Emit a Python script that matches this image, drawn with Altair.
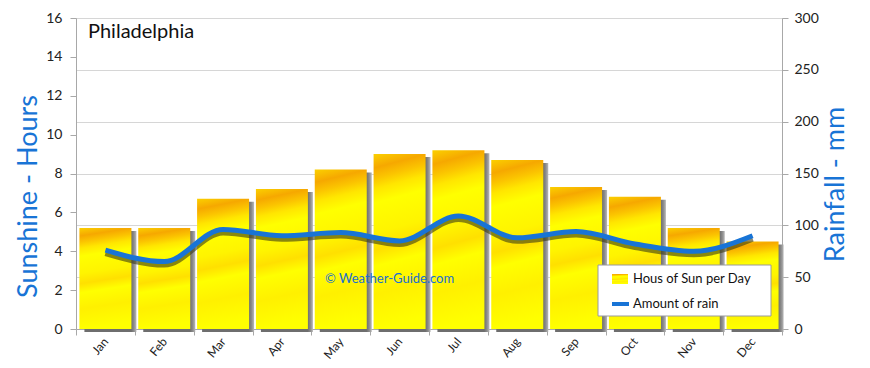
import altair as alt
import pandas as pd

months = ["Jan", "Feb", "Mar", "Apr", "May", "Jun", "Jul", "Aug", "Sep", "Oct", "Nov", "Dec"]
sun_hours = [5.2, 5.2, 6.7, 7.2, 8.2, 9.0, 9.2, 8.7, 7.3, 6.8, 5.2, 4.5]
rain_mm = [76, 65, 96, 90, 93, 85, 109, 88, 94, 82, 75, 90]
sun_ticks = [0, 2, 4, 6, 8, 10, 12, 14, 16]
rain_ticks = [0, 50, 100, 150, 200, 250, 300]
city = "Philadelphia"
credit = "© Weather-Guide.com"
series_names = ["Hous of Sun per Day", "Amount of rain"]

df = pd.DataFrame({"month": months, "sun": sun_hours, "rain": rain_mm})

W, H = 706, 311
TOP = 10  # plot top at page y = 8 + TOP
DY = (8 + TOP) - 9  # shift relative to the reference plot top
FONT = "Lato"
BLUE = "#1874d6"
AXIS_GRAY = "#a8a8a8"

yellow_grad = alt.Gradient(
    gradient="linear",
    stops=[
        alt.GradientStop(color="#fbd000", offset=0),
        alt.GradientStop(color="#f6a800", offset=0.08),
        alt.GradientStop(color="#fbc400", offset=0.14),
        alt.GradientStop(color="#ffe600", offset=0.2),
        alt.GradientStop(color="#ffff00", offset=0.28),
        alt.GradientStop(color="#fff400", offset=0.45),
        alt.GradientStop(color="#ffe000", offset=0.55),
        alt.GradientStop(color="#ffff00", offset=0.64),
        alt.GradientStop(color="#fff000", offset=0.8),
        alt.GradientStop(color="#ffff00", offset=1),
    ],
    x1=0, y1=0, x2=0.08, y2=1,
)
gray_grad = alt.Gradient(
    gradient="linear",
    stops=[
        alt.GradientStop(color="#6e6e6e", offset=0),
        alt.GradientStop(color="#8a8a8a", offset=0.5),
        alt.GradientStop(color="#b8b8b8", offset=1),
    ],
    x1=0.9, y1=0, x2=1, y2=0,
)

x_enc = alt.X(
    "month:N",
    sort=months,
    scale=alt.Scale(paddingInner=0, paddingOuter=0),
    axis=alt.Axis(
        title=None, labelAngle=-50, tickBand="extent", tickSize=6,
        domainColor=AXIS_GRAY, tickColor=AXIS_GRAY, labelFontSize=12,
        labelColor="#222", labelPadding=4, labelFont=FONT,
    ),
)

sun_scale = alt.Scale(domain=[0, 16], nice=False)
rain_scale = alt.Scale(domain=[0, 300], nice=False)

sun_axis = alt.Axis(
    orient="left", values=sun_ticks, grid=False, tickSize=6,
    domainColor=AXIS_GRAY, tickColor=AXIS_GRAY, labelFontSize=14,
    labelColor="#222", labelPadding=8, labelFont=FONT,
    title="Sunshine - Hours", titleColor=BLUE, titleFontSize=27,
    titleFontWeight="normal", titleFont=FONT, titleAngle=270,
    titleX=-48, titleY=187 - DY, titleAlign="center", titleBaseline="middle",
)
rain_axis = alt.Axis(
    orient="right", values=rain_ticks, grid=True, gridColor="#d6d6d6",
    tickSize=6, domainColor=AXIS_GRAY, tickColor=AXIS_GRAY,
    labelFontSize=14, labelColor="#222", labelPadding=6, labelFont=FONT,
    title="Rainfall - mm", titleColor=BLUE, titleFontSize=27,
    titleFontWeight="normal", titleFont=FONT, titleAngle=270,
    titleX=53, titleY=175 - DY, titleAlign="center", titleBaseline="middle",
)

base = alt.Chart(df)

shadow = base.mark_bar(width=52, xOffset=5, yOffset=3, y2Offset=0, color=gray_grad).encode(
    x=x_enc, y=alt.Y("sun:Q", scale=sun_scale, axis=sun_axis)
)
bars = base.mark_bar(width=52, color=yellow_grad).encode(
    x=x_enc, y=alt.Y("sun:Q", scale=sun_scale, axis=sun_axis)
)
sun_layer = alt.layer(shadow, bars)

line_shadow = base.mark_line(
    interpolate="monotone", color="#3a3a14", strokeWidth=6, opacity=0.6, yOffset=3
).encode(x=x_enc, y=alt.Y("rain:Q", scale=rain_scale, axis=rain_axis))
line = base.mark_line(interpolate="monotone", color=BLUE, strokeWidth=5).encode(
    x=x_enc, y=alt.Y("rain:Q", scale=rain_scale, axis=rain_axis)
)
rain_layer = alt.layer(line_shadow, line)

one = pd.DataFrame({"t": [city]})
title_txt = alt.Chart(one).mark_text(
    align="left", baseline="alphabetic", fontSize=20, font=FONT, color="#111"
).encode(x=alt.value(12), y=alt.value(29 - DY), text="t:N")

cred = alt.Chart(pd.DataFrame({"t": [credit]})).mark_text(
    align="left", baseline="middle", fontSize=13, font=FONT, color="#1a6fd0"
).encode(x=alt.value(249), y=alt.value(270 - DY), text="t:N")

leg_box = alt.Chart(one).mark_rect(fill="white", stroke="#9a9a9a", strokeWidth=1).encode(
    x=alt.value(522), x2=alt.value(695), y=alt.value(256 - DY), y2=alt.value(307 - DY)
)
leg_sw = alt.Chart(one).mark_rect(color=yellow_grad).encode(
    x=alt.value(536), x2=alt.value(552), y=alt.value(265 - DY), y2=alt.value(275 - DY)
)
leg_ln = alt.Chart(one).mark_rule(color=BLUE, strokeWidth=4).encode(
    x=alt.value(536), x2=alt.value(553), y=alt.value(295 - DY)
)
leg_t1 = alt.Chart(pd.DataFrame({"t": [series_names[0]]})).mark_text(
    align="left", baseline="middle", fontSize=13, font=FONT, color="#111"
).encode(x=alt.value(557), y=alt.value(270 - DY), text="t:N")
leg_t2 = alt.Chart(pd.DataFrame({"t": [series_names[1]]})).mark_text(
    align="left", baseline="middle", fontSize=13, font=FONT, color="#111"
).encode(x=alt.value(557), y=alt.value(295 - DY), text="t:N")

chart = alt.layer(
    sun_layer, rain_layer, title_txt, cred, leg_box, leg_sw, leg_ln, leg_t1, leg_t2
).resolve_scale(y="independent").properties(
    width=W, height=H,
    padding={"left": 68, "top": TOP, "right": 80, "bottom": 40},
    autosize=alt.AutoSizeParams(type="none"),
).configure_view(strokeWidth=0).configure(background="white")

chart.save("out.html", embed_options={"renderer": "svg", "actions": False})
